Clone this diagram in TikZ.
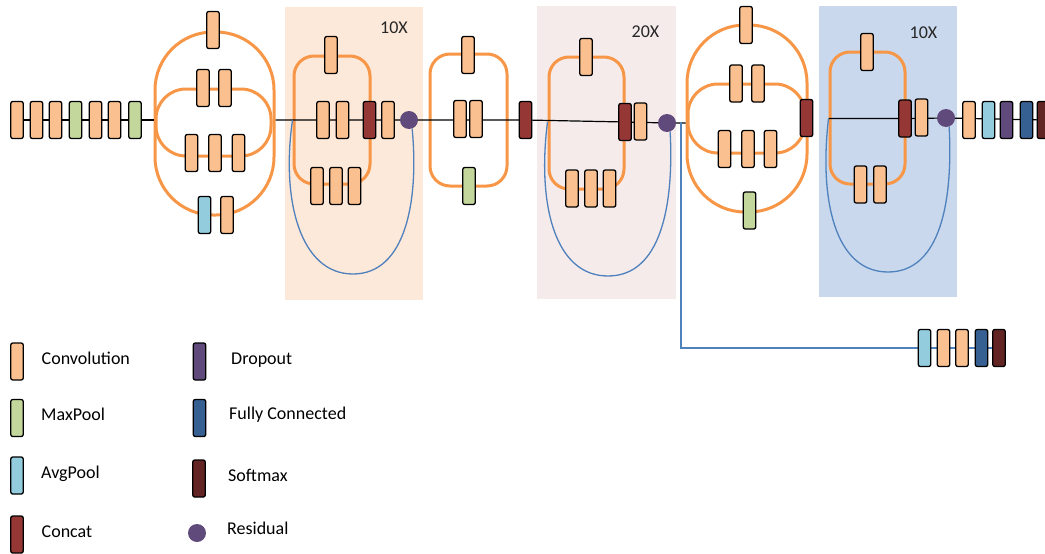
\documentclass[tikz,border=0pt]{standalone}
\usepackage{fontspec}
\setmainfont{Carlito}
\definecolor{convC}{HTML}{FAC090}
\definecolor{mpC}{HTML}{C3D69B}
\definecolor{apC}{HTML}{93CDDD}
\definecolor{ccC}{HTML}{953735}
\definecolor{dpC}{HTML}{604A7B}
\definecolor{fcC}{HTML}{376092}
\definecolor{smC}{HTML}{632523}
\definecolor{resC}{HTML}{604A7B}
\definecolor{orL}{HTML}{F79646}
\definecolor{blL}{HTML}{4F81BD}
\definecolor{bgO}{HTML}{FDE9D9}
\definecolor{bgP}{HTML}{F6EBEB}
\definecolor{bgB}{HTML}{C9D8EC}
\pgfdeclarelayer{panel}
\pgfdeclarelayer{wires}
\pgfsetlayers{panel,wires,main}
\tikzset{
  lay/.style={draw=black, line width=1.3pt, rounded corners=2pt, minimum width=12.5pt, minimum height=37pt, inner sep=0pt},
  conv/.style={lay, fill=convC},
  mp/.style={lay, fill=mpC},
  ap/.style={lay, fill=apC},
  cc/.style={lay, fill=ccC},
  dp/.style={lay, fill=dpC},
  fc/.style={lay, fill=fcC},
  sm/.style={lay, fill=smC},
  res/.style={circle, fill=resC, minimum size=18pt, inner sep=0pt},
  wire/.style={draw=black, line width=1.2pt},
  branch/.style={draw=orL, line width=3pt, inner sep=0pt},
  loopc/.style={draw=blL, line width=1.3pt},
  lbl/.style={font=\fontsize{18}{21}\selectfont, anchor=base west, inner sep=0pt},
  rep/.style={font=\fontsize{18}{21}\selectfont, anchor=base, inner sep=0pt, text=black!85},
  panelbox/.style={draw=none}
}
\begin{document}
\begin{tikzpicture}[x=1pt, y=-1pt]
\useasboundingbox (0,0) rectangle (1045,554);
% panels
\begin{pgfonlayer}{panel}
  \fill[bgO] (285,7) rectangle (423,300);
  \fill[bgP] (537,6) rectangle (676,299);
  \fill[bgB] (819,6) rectangle (957,297);
\end{pgfonlayer}
\node[rep] (repB) at (394,34) {10X};
\node[rep] (repD) at (645.5,37) {20X};
\node[rep] (repF) at (923.5,38) {10X};

% stem
\node[conv] (s1) at (17,120) {};
\node[conv] (s2) at (36.5,120) {};
\node[conv] (s3) at (55.5,120) {};
\node[mp]   (s4) at (75.5,120) {};
\node[conv] (s5) at (95.5,120) {};
\node[conv] (s6) at (114.5,120) {};
\node[mp]   (s7) at (135,120) {};

% block A
\begin{pgfonlayer}{wires}
\node[branch, minimum width=119pt, minimum height=183pt, rounded corners=58pt] (A) at (214.5,123.5) {};
\node[branch, minimum width=115pt, minimum height=67pt, rounded corners=30pt] (Ai) at (213.5,122.5) {};
\end{pgfonlayer}
\node[conv] (a1) at (213,30) {};
\node[conv] (a2) at (203,88) {};
\node[conv] (a3) at (225,88) {};
\node[conv] (a4) at (191.5,153) {};
\node[conv] (a5) at (215,153) {};
\node[conv] (a6) at (238.5,153) {};
\node[ap]   (a7) at (204.5,215) {};
\node[conv] (a8) at (227,215) {};

% block B
\begin{pgfonlayer}{wires}
\node[branch, minimum width=76pt, minimum height=128pt, rounded corners=20pt] (B) at (332,120) {};
\end{pgfonlayer}
\node[conv] (b1) at (331,55) {};
\node[conv] (b2) at (323,120) {};
\node[conv] (b3) at (342.5,120) {};
\node[cc]   (b4) at (369.5,120) {};
\node[conv] (b5) at (388,120) {};
\node[res]  (r1) at (409,120) {};
\node[conv] (b6) at (317,186) {};
\node[conv] (b7) at (336,186) {};
\node[conv] (b8) at (354.5,186) {};

% block C
\begin{pgfonlayer}{wires}
\node[branch, minimum width=77pt, minimum height=132pt, rounded corners=20pt] (C) at (468.5,120) {};
\end{pgfonlayer}
\node[conv] (c1) at (468,55) {};
\node[conv] (c2) at (460,119) {};
\node[conv] (c3) at (476,119) {};
\node[mp]   (c4) at (469,186) {};
\node[cc]   (k1) at (525.5,120) {};

% block D
\begin{pgfonlayer}{wires}
\node[branch, minimum width=75pt, minimum height=132pt, rounded corners=20pt] (D) at (586.5,123) {};
\end{pgfonlayer}
\node[conv] (d1) at (586,57) {};
\node[cc]   (d2) at (625,122) {};
\node[conv] (d3) at (640.5,121.5) {};
\node[res]  (r2) at (667,123) {};
\node[conv] (d4) at (572,188.5) {};
\node[conv] (d5) at (591,188.5) {};
\node[conv] (d6) at (609.5,188.5) {};

% block E
\begin{pgfonlayer}{wires}
\node[branch, minimum width=120pt, minimum height=187pt, rounded corners=58pt] (E) at (747,118.5) {};
\node[branch, minimum width=117pt, minimum height=69pt, rounded corners=30pt] (Ei) at (746.5,118.5) {};
\end{pgfonlayer}
\node[conv] (e1) at (746,25) {};
\node[conv] (e2) at (736,83.5) {};
\node[conv] (e3) at (758,83.5) {};
\node[conv] (e4) at (724.5,149) {};
\node[conv] (e5) at (748,149) {};
\node[conv] (e6) at (770.5,149) {};
\node[mp]   (e7) at (749.5,210.5) {};
\node[cc]   (e8) at (806.5,118) {};

% block F
\begin{pgfonlayer}{wires}
\node[branch, minimum width=75pt, minimum height=132pt, rounded corners=20pt] (F) at (867.5,118) {};
\end{pgfonlayer}
\node[conv] (f1) at (867,52) {};
\node[cc]   (f2) at (905,118.5) {};
\node[conv] (f3) at (921.5,117.5) {};
\node[res]  (r3) at (946,118) {};
\node[conv] (f4) at (860.5,184.5) {};
\node[conv] (f5) at (880,184.5) {};

% head
\node[conv] (g1) at (969,120) {};
\node[ap]   (g2) at (988.5,120) {};
\node[dp]   (g3) at (1006.5,120) {};
\node[fc]   (g4) at (1026.5,120) {};
\node[sm]   (g5) at (1043.5,120) {};

% auxiliary head
\coordinate (split) at (681,122);
\node[ap]   (h1) at (924.5,348) {};
\node[conv] (h2) at (943.5,348) {};
\node[conv] (h3) at (962,348) {};
\node[fc]   (h4) at (981.5,348) {};
\node[sm]   (h5) at (999,348) {};

% wires
\begin{pgfonlayer}{wires}
  \draw[wire] (s1.center) -- (s1.center -| A.west);
  \draw[wire] (A.east |- r1) -- (r1.center) -- (k1.center) -- (d2.center) -- (r2.center) -- (r2.center -| E.west);
  \draw[wire] (F.west |- f2) -- (f2.center) -- (r3.center) -- (g5.center);
  \draw[draw=blL, line width=1.3pt] (split) |- (h1.center) -- (h5.center);
  \draw[loopc] (B.west |- r1) .. controls (281,200) and (300,274) .. (353,274)
               .. controls (406,274) and (419,200) .. (r1.-70);
  \draw[loopc] (D.west |- d2) .. controls (537,205) and (555,276) .. (608,276)
               .. controls (661,276) and (674,205) .. (r2.-70);
  \draw[loopc] (F.west |- f2) .. controls (819,200) and (835,272) .. (888,272)
               .. controls (941,272) and (953,200) .. (r3.-70);
\end{pgfonlayer}

% legend
\node[conv] (L1) at (17,361.5) {};
\node[mp]   (L2) at (17,418) {};
\node[ap]   (L3) at (17,475.5) {};
\node[cc]   (L4) at (17,534.5) {};
\node[dp]   (L5) at (199.5,361.5) {};
\node[fc]   (L6) at (199.5,418) {};
\node[sm]   (L7) at (199,478.5) {};
\node[res]  (L8) at (197,533) {};
\node[lbl] (T1) at (41.5,364.5) {Convolution};
\node[lbl] (T2) at (41,420) {MaxPool};
\node[lbl] (T3) at (41,478.5) {AvgPool};
\node[lbl] (T4) at (41.5,537) {Concat};
\node[lbl] (T5) at (231,364.5) {Dropout};
\node[lbl] (T6) at (229,419) {Fully Connected};
\node[lbl] (T7) at (228,481) {Softmax};
\node[lbl] (T8) at (227,534) {Residual};
\end{tikzpicture}
\end{document}
